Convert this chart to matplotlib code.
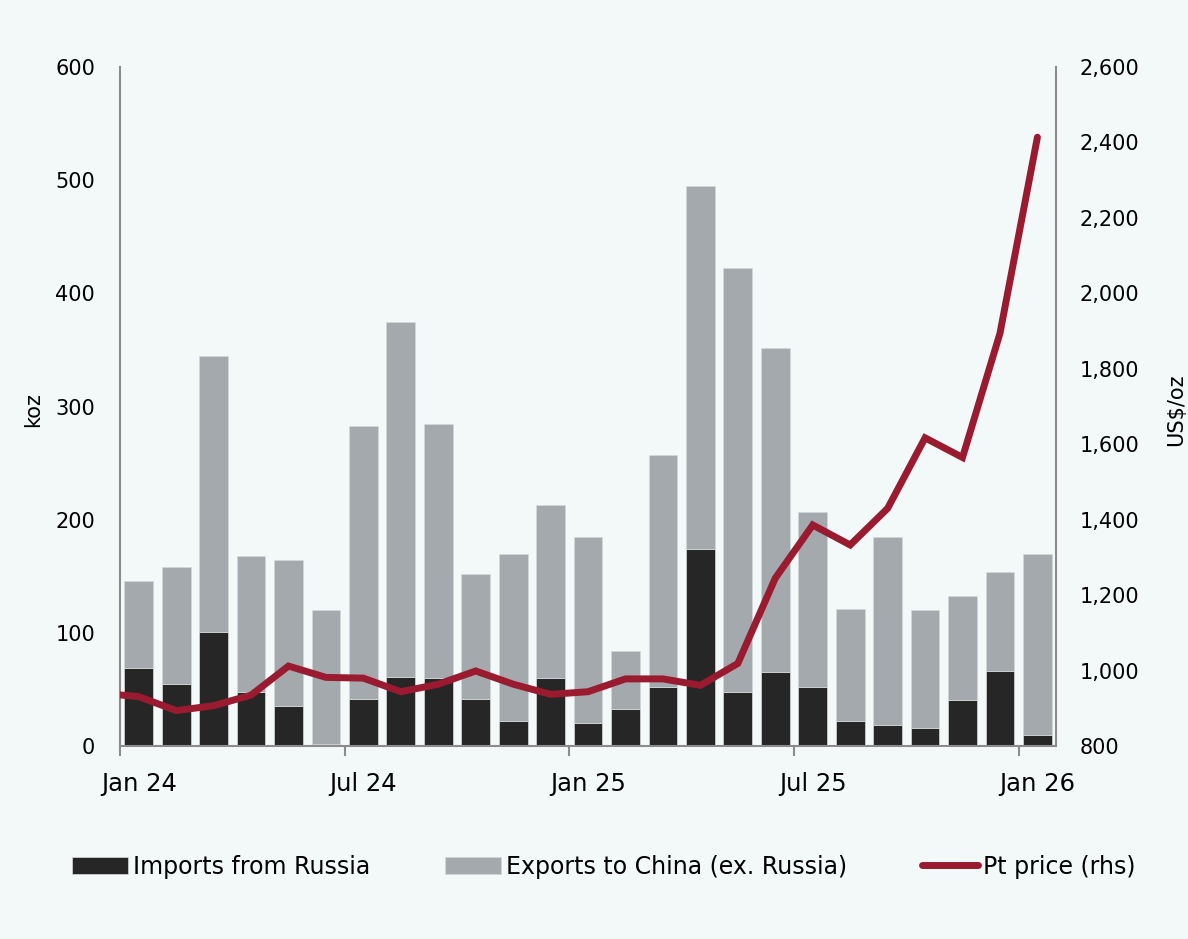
import matplotlib
matplotlib.use("Agg")
import matplotlib.pyplot as plt
import numpy as np

# monthly, Jan 24 .. Jan 26
months = ["Jan 24", "Feb 24", "Mar 24", "Apr 24", "May 24", "Jun 24",
          "Jul 24", "Aug 24", "Sep 24", "Oct 24", "Nov 24", "Dec 24",
          "Jan 25", "Feb 25", "Mar 25", "Apr 25", "May 25", "Jun 25",
          "Jul 25", "Aug 25", "Sep 25", "Oct 25", "Nov 25", "Dec 25",
          "Jan 26"]
imports_russia = [69, 55, 101, 48, 35, 2, 42, 61, 60, 42, 22, 60,
                  20, 33, 52, 174, 48, 65, 52, 22, 19, 16, 41, 66, 10]
total_koz = [146, 158, 345, 168, 164, 120, 283, 375, 285, 152, 170, 213,
             185, 84, 257, 495, 422, 352, 207, 121, 185, 120, 133, 154, 170]
exports_china = [t - r for t, r in zip(total_koz, imports_russia)]
# Pt price, US$/oz (first value is Dec 23, clipped at the axis)
pt_price = [940, 931, 894, 907, 935, 1012, 982, 980, 944, 964, 999, 964,
            937, 944, 978, 978, 961, 1019, 1245, 1386, 1333, 1430, 1617,
            1565, 1894, 2414]
tick_labels = ["Jan 24", "Jul 24", "Jan 25", "Jul 25", "Jan 26"]

BG = "#f3f8f8"
DARK = "#262626"
GREY = "#a3a9ac"
RED = "#9a1a2f"
AXC = "#8c8c8c"

plt.rcParams["font.family"] = ["DejaVu Sans"]
plt.rcParams["font.size"] = 15

fig = plt.figure(figsize=(11.88, 9.39), dpi=100, facecolor=BG)
ax = fig.add_axes([0.101, 0.2055, 0.788, 0.7231])
ax.set_facecolor(BG)

x = np.arange(len(months))
w = 0.77
ax.bar(x, imports_russia, w, color=DARK, edgecolor="#d4d9da", linewidth=0.5,
       label="Imports from Russia", zorder=2)
ax.bar(x, exports_china, w, bottom=imports_russia, color=GREY,
       edgecolor="#d4d9da", linewidth=0.5,
       label="Exports to China (ex. Russia)", zorder=2)

ax.set_xlim(-0.5, len(months) - 0.5)
ax.set_ylim(0, 600)
ax.set_yticks(range(0, 601, 100))
ax.set_ylabel("koz")
ax.yaxis.set_label_coords(-0.082, 0.495)

# labels at bar centres, tick marks at the left edge of each half-year
ax.set_xticks(x[::6] - 0.5)
ax.set_xticklabels([])
ax.set_xticks(x[::6], minor=True)
ax.set_xticklabels(tick_labels, minor=True, fontsize=17.5)
ax.tick_params(axis="x", which="major", length=7, width=1.5, color=AXC, direction="out")
ax.tick_params(axis="x", which="minor", length=0, pad=19)
ax.tick_params(axis="y", length=0, pad=18)

for side in ("top", "right"):
    ax.spines[side].set_visible(False)
for side in ("left", "bottom"):
    ax.spines[side].set_color(AXC)
    ax.spines[side].set_linewidth(1.5)

ax2 = ax.twinx()
xp = np.arange(len(pt_price)) - 1
ax2.plot(xp, pt_price, color=RED, lw=5, solid_capstyle="round",
         solid_joinstyle="miter", label="Pt price (rhs)", zorder=3)
ax2.set_ylim(800, 2600)
ax2.set_yticks(range(800, 2601, 200))
ax2.set_yticklabels([f"{v:,}" for v in range(800, 2601, 200)])
ax2.set_ylabel("US$/oz")
ax2.yaxis.set_label_coords(1.117, 0.495)
ax2.tick_params(axis="y", length=0, pad=17)
for side in ("top", "left", "bottom"):
    ax2.spines[side].set_visible(False)
ax2.spines["right"].set_color(AXC)
ax2.spines["right"].set_linewidth(1.5)
ax2.set_xlim(-0.5, len(months) - 0.5)

h1, l1 = ax.get_legend_handles_labels()
h2, l2 = ax2.get_legend_handles_labels()
fig.legend(h1 + h2, l1 + l2, loc="center", bbox_to_anchor=(0.508, 0.077),
           ncol=3, frameon=False, handlelength=2.4, handleheight=0.7,
           handletextpad=0.2, columnspacing=3.15, fontsize=17)

fig.savefig("out.png", dpi=100, facecolor=BG)
